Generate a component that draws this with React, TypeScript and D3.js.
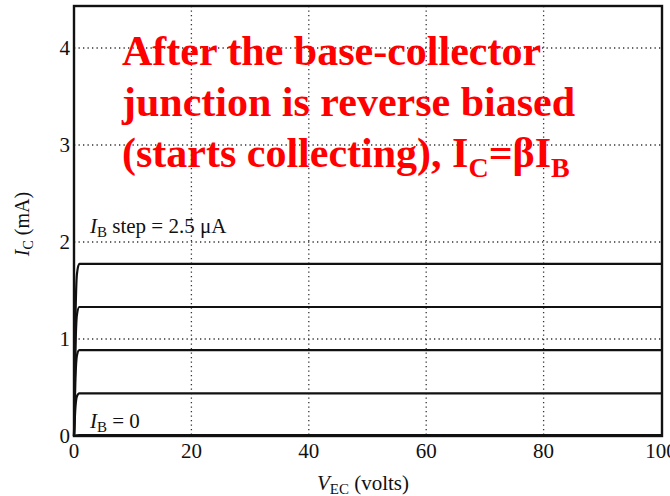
import React from "react";
import * as d3 from "d3";

const xTicks = [0, 20, 40, 60, 80, 100];
const yTicks = [0, 1, 2, 3, 4];
const gridX = [20, 40, 60, 80];
const gridY = [1, 2, 3, 4];
const vecPoints = [0, 0.25, 0.5, 0.9, 100];
const curveIc0 = [0, 0.004, 0.006, 0.008, 0.01];
const curveIc1 = [0, 0.3, 0.41, 0.44, 0.44];
const curveIc2 = [0, 0.6, 0.83, 0.885, 0.885];
const curveIc3 = [0, 0.9, 1.25, 1.33, 1.33];
const curveIc4 = [0, 1.2, 1.67, 1.775, 1.775];
const curves = [curveIc0, curveIc1, curveIc2, curveIc3, curveIc4];
const noteLines = ["After the base-collector", "junction is reverse biased"];

export default function App() {
  const W = 670, H = 496;
  const x = d3.scaleLinear().domain([0, 100]).range([74, 661]);
  const y = d3.scaleLinear().domain([0, 4]).range([436, 48]);
  const top = 6;
  const right = 662;
  const line = d3
    .line<number>()
    .x((_, i) => x(vecPoints[i]))
    .y((d) => y(d))
    .curve(d3.curveMonotoneX);
  const serif = "'Liberation Serif', 'Times New Roman', serif";
  return (
    <svg
      width={W}
      height={H}
      style={{ position: "absolute", left: 0, top: 0, background: "#fff" }}
      fontFamily={serif}
    >
      <rect x={0} y={0} width={W} height={H} fill="#fff" />
      {gridX.map((v) => (
        <line key={"gx" + v} x1={x(v)} x2={x(v)} y1={top} y2={y(0)} stroke="#333" strokeWidth={1.3} strokeDasharray="1.3,3.2" />
      ))}
      {gridY.map((v) => (
        <line key={"gy" + v} x1={x(0)} x2={right} y1={y(v)} y2={y(v)} stroke="#333" strokeWidth={1.3} strokeDasharray="1.3,3.2" />
      ))}
      {curves.map((c, i) => (
        <path key={"c" + i} d={line(c) || ""} fill="none" stroke="#111" strokeWidth={2.2} />
      ))}
      <rect x={x(0)} y={top} width={right - x(0)} height={y(0) - top} fill="none" stroke="#111" strokeWidth={2.4} />
      {xTicks.map((v) => (
        <text key={"xt" + v} x={x(v)} y={458} textAnchor="middle" fontSize={21} fill="#111">
          {v}
        </text>
      ))}
      {yTicks.map((v) => (
        <text key={"yt" + v} x={70} y={y(v) + 7} textAnchor="end" fontSize={21} fill="#111">
          {v}
        </text>
      ))}
      <text x={363} y={490} textAnchor="middle" fontSize={21} fill="#111">
        <tspan fontStyle="italic">V</tspan>
        <tspan fontSize={15} dy={4}>EC</tspan>
        <tspan dy={-4}> (volts)</tspan>
      </text>
      <text transform="translate(29,224) rotate(-90)" textAnchor="middle" fontSize={20} fill="#111">
        <tspan fontStyle="italic">I</tspan>
        <tspan fontSize={14} dy={4}>C</tspan>
        <tspan dy={-4}> (mA)</tspan>
      </text>
      <text x={90} y={233} fontSize={21} fill="#111">
        <tspan fontStyle="italic">I</tspan>
        <tspan fontSize={15} dy={4}>B</tspan>
        <tspan dy={-4}> step = 2.5 μA</tspan>
      </text>
      <text x={90} y={428} fontSize={21} fill="#111">
        <tspan fontStyle="italic">I</tspan>
        <tspan fontSize={15} dy={4}>B</tspan>
        <tspan dy={-4}> = 0</tspan>
      </text>
      <g fill="#ff0000" fontWeight="bold" fontSize={42}>
        {noteLines.map((t, i) => (
          <text key={"n" + i} x={122} y={65 + i * 51}>
            {t}
          </text>
        ))}
        <text x={122} y={167}>
          <tspan>(starts collecting), I</tspan>
          <tspan fontSize={28} dy={10}>C</tspan>
          <tspan dy={-10}>=βI</tspan>
          <tspan fontSize={28} dy={10}>B</tspan>
        </text>
      </g>
    </svg>
  );
}
